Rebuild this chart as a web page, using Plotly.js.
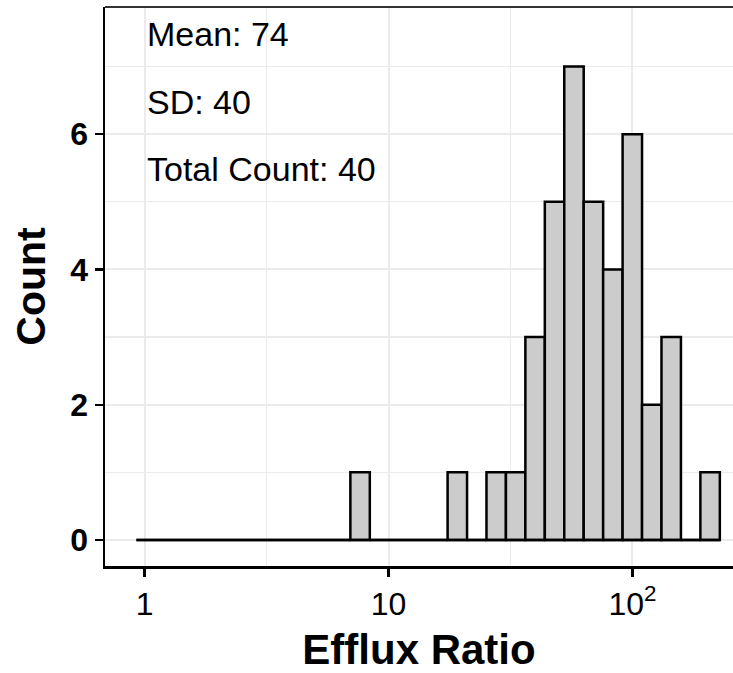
<!DOCTYPE html>
<html>
<head>
<meta charset="utf-8">
<script src="https://cdn.plot.ly/plotly-3.0.1.min.js"></script>
<style>html,body{margin:0;padding:0;background:#fff;}#chart{width:733px;height:673px;}</style>
</head>
<body>
<div id="chart"></div>
<script>
// Histogram of efflux ratio, 30 equal bins on a log10 scale
var binStartLog10 = -0.033;     // lower edge of first bin (log10 of ratio)
var binWidthLog10 = 0.0797;     // bin width in log10 units
var binCounts = [0,0,0,0,0,0,0,0,0,0,0,1,0,0,0,0,1,0,1,1,3,5,7,5,4,6,2,3,0,1];
var xTickVals = [0, 1, 2];
var xTickText = ['1', '10', '10<sup>2</sup>'];
var yTickVals = [0, 2, 4, 6];
var statLabels = ['Mean: 74', 'SD: 40', 'Total Count: 40'];
var statY = [7.48, 6.48, 5.48];

var centers = binCounts.map(function(c, i){ return binStartLog10 + (i + 0.5) * binWidthLog10; });
var edgeLo = binStartLog10;
var edgeHi = binStartLog10 + binCounts.length * binWidthLog10;

var font = 'Liberation Sans, Arial, Helvetica, sans-serif';

var traces = [
  {
    type: 'scatter', mode: 'lines',
    x: [edgeLo, edgeHi], y: [0, 0],
    line: {color: '#000', width: 2.5},
    hoverinfo: 'skip', showlegend: false
  },
  {
    type: 'bar',
    x: centers, y: binCounts,
    width: binWidthLog10,
    marker: {color: '#cccccc', line: {color: '#000', width: 2.5}},
    showlegend: false
  }
];

var annotations = statLabels.map(function(t, i){
  return {x: 0, y: statY[i], xref: 'x', yref: 'y', text: t, showarrow: false,
    xanchor: 'left', yanchor: 'middle', font: {family: font, size: 34, color: '#000'}};
});

var layout = {
  width: 733, height: 673,
  margin: {l: 105, r: 0, t: 7, b: 107},
  paper_bgcolor: '#fff', plot_bgcolor: '#fff',
  showlegend: false,
  bargap: 0,
  xaxis: {
    range: [-0.162, 2.412],
    tickmode: 'array', tickvals: xTickVals, ticktext: xTickText,
    ticks: 'outside', ticklen: 8, tickwidth: 2.2, tickcolor: '#000',
    tickfont: {family: font, size: 32, color: '#000'},
    showline: true, linecolor: '#000', linewidth: 2.5,
    showgrid: true, gridcolor: '#ebebeb', gridwidth: 2,
    minor: {tickmode: 'linear', tick0: 0, dtick: 0.5, showgrid: true, gridcolor: '#ebebeb', gridwidth: 1.3, ticks: ''},
    zeroline: false,
    title: {text: 'Efflux Ratio', font: {family: font, size: 42, color: '#000', weight: 'bold'}, standoff: 14}
  },
  yaxis: {
    range: [-0.385, 7.88],
    tickmode: 'array', tickvals: yTickVals,
    ticks: 'outside', ticklen: 8, tickwidth: 2.2, tickcolor: '#000',
    tickfont: {family: font, size: 32, color: '#000', weight: 'bold'},
    showline: true, linecolor: '#000', linewidth: 2.5,
    showgrid: true, gridcolor: '#ebebeb', gridwidth: 2,
    minor: {tickmode: 'linear', tick0: 0, dtick: 1, showgrid: true, gridcolor: '#ebebeb', gridwidth: 1.3, ticks: ''},
    zeroline: false,
    title: {text: 'Count', font: {family: font, size: 41, color: '#000', weight: 'bold'}, standoff: 12}
  },
  shapes: [
    {type: 'line', xref: 'paper', yref: 'paper', x0: 0, x1: 1, y0: 1, y1: 1, line: {color: '#333', width: 2}}
  ],
  annotations: annotations
};

Plotly.newPlot('chart', traces, layout, {displayModeBar: false, staticPlot: true});
</script>
</body>
</html>
